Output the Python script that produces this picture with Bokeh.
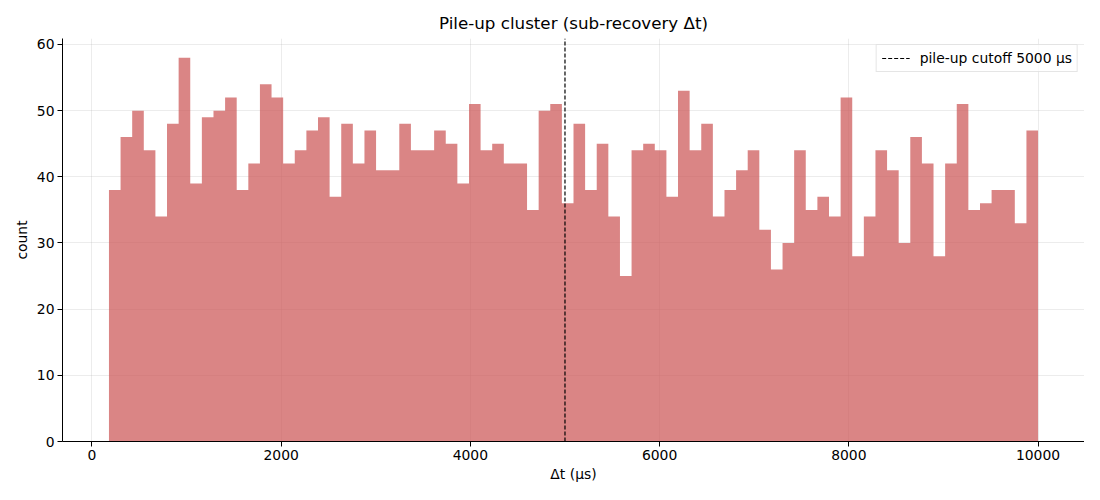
import numpy as np
from bokeh.plotting import figure
from bokeh.models import Range1d, FixedTicker, Legend, LegendItem
from bokeh.embed import file_html
from bokeh.resources import INLINE

# ---- data ----
bin_lo = 180.0
bin_hi = 10000.0
counts = [38, 46, 50, 44, 34, 48, 58, 39, 49, 50,
          52, 38, 42, 54, 52, 42, 44, 47, 49, 37,
          48, 42, 47, 41, 41, 48, 44, 44, 47, 45,
          39, 51, 44, 45, 42, 42, 35, 50, 51, 36,
          48, 38, 45, 34, 25, 44, 45, 44, 37, 53,
          44, 48, 34, 38, 41, 44, 32, 26, 30, 44,
          35, 37, 34, 52, 28, 34, 44, 41, 30, 46,
          42, 28, 42, 51, 35, 36, 38, 38, 33, 47]
cutoff = 5000
x_ticks = [0, 2000, 4000, 6000, 8000, 10000]
y_ticks = [0, 10, 20, 30, 40, 50, 60]
title = "Pile-up cluster (sub-recovery Δt)"
x_label = "Δt (µs)"
y_label = "count"
legend_label = "pile-up cutoff 5000 µs"

edges = np.linspace(bin_lo, bin_hi, len(counts) + 1)
span = bin_hi - bin_lo
x0, x1 = bin_lo - 0.05 * span, bin_hi + 0.05 * span
y1 = max(counts) * 1.05

FONT = "DejaVu Sans"
FS = "13.9px"
p = figure(width=1084, height=484, output_backend="svg", toolbar_location=None,
           x_range=Range1d(x0, x1), y_range=Range1d(0, y1),
           min_border_left=62, min_border_right=0, min_border_top=38, min_border_bottom=42)
p.title.text = title
p.title.align = "center"
p.title.text_font = FONT
p.title.text_font_size = "16.7px"
p.title.text_font_style = "normal"
p.title.text_color = "black"
p.title.standoff = 12

p.outline_line_color = None
p.background_fill_color = "white"
for ax in (p.xaxis[0], p.yaxis[0]):
    ax.axis_line_color = "black"
    ax.major_tick_line_color = "black"
    ax.major_tick_out = 5
    ax.major_tick_in = 0
    ax.minor_tick_line_color = None
    ax.major_label_text_font = FONT
    ax.major_label_text_font_size = FS
    ax.major_label_text_color = "black"
    ax.axis_label_text_font = FONT
    ax.axis_label_text_font_size = FS
    ax.axis_label_text_font_style = "normal"
    ax.axis_label_text_color = "black"
    ax.major_label_standoff = 3
p.xaxis.ticker = FixedTicker(ticks=x_ticks)
p.yaxis.ticker = FixedTicker(ticks=y_ticks)
p.xaxis.axis_label = x_label
p.yaxis.axis_label = y_label
p.xaxis.axis_label_standoff = 3
p.yaxis.axis_label_standoff = 4

p.xgrid.ticker = FixedTicker(ticks=x_ticks)
p.ygrid.ticker = FixedTicker(ticks=y_ticks)
for g in (p.xgrid[0], p.ygrid[0]):
    g.grid_line_color = "#b0b0b0"
    g.grid_line_alpha = 0.3
    g.grid_line_width = 0.8

step_top = list(counts) + [counts[-1]]
p.varea_step(x=edges, y1=np.zeros(len(edges)), y2=step_top, step_mode="after",
             fill_color="indianred", fill_alpha=0.75)

vl = p.line(x=[cutoff, cutoff], y=[0, y1], line_color="black", line_width=1.2,
            line_dash="4 2")

legend = Legend(items=[LegendItem(label=legend_label, renderers=[vl])],
                location="top_right")
legend.label_text_font = FONT
legend.label_text_font_size = FS
legend.label_text_color = "black"
legend.border_line_color = "#cccccc"
legend.border_line_width = 1
legend.background_fill_alpha = 0.8
legend.glyph_width = 28
legend.glyph_height = 14
legend.padding = 5
legend.spacing = 0
legend.margin = 6
legend.label_standoff = 10
legend.label_height = 14
p.add_layout(legend)

open("out.html", "w").write(file_html(p, INLINE))
